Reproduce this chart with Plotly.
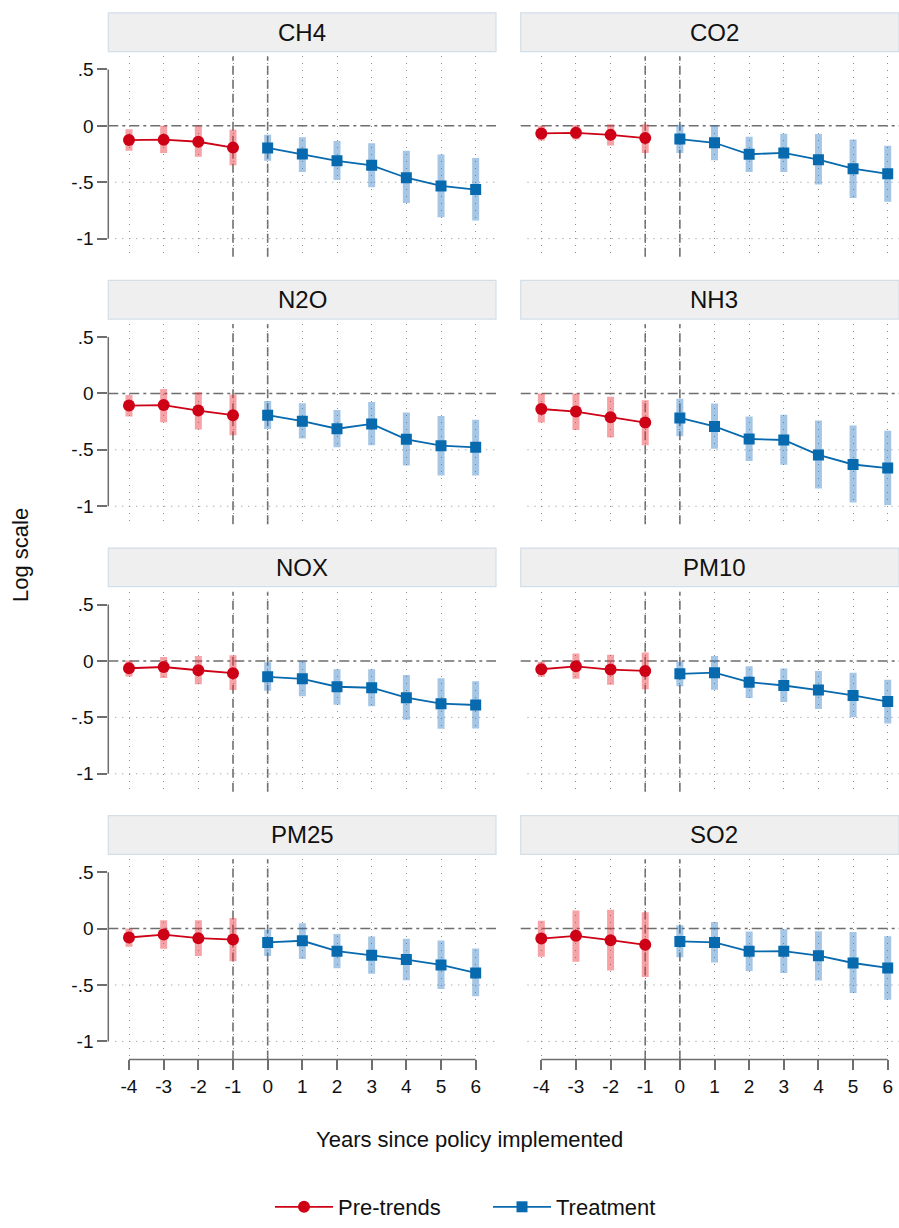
import plotly.graph_objects as go

W, H = 899, 1228

pollutants = ["CH4", "CO2", "N2O", "NH3", "NOX", "PM10", "PM25", "SO2"]
years_pre = [-4, -3, -2, -1]
years_trt = [0, 1, 2, 3, 4, 5, 6]
xtick_vals = [-4, -3, -2, -1, 0, 1, 2, 3, 4, 5, 6]
xtick_text = ["-4", "-3", "-2", "-1", "0", "1", "2", "3", "4", "5", "6"]
ytick_vals = [-1, -0.5, 0, 0.5]
ytick_text = ["-1", "-.5", "0", ".5"]

CH4_pre = [-0.126, -0.123, -0.141, -0.193]
CH4_pre_lo = [-0.22, -0.24, -0.275, -0.35]
CH4_pre_hi = [-0.03, 0.0, 0.0, -0.035]
CH4_trt = [-0.196, -0.25, -0.31, -0.35, -0.46, -0.533, -0.565]
CH4_trt_lo = [-0.31, -0.41, -0.48, -0.545, -0.685, -0.81, -0.84]
CH4_trt_hi = [-0.08, -0.10, -0.135, -0.155, -0.22, -0.255, -0.285]

CO2_pre = [-0.067, -0.062, -0.08, -0.108]
CO2_pre_lo = [-0.13, -0.12, -0.175, -0.24]
CO2_pre_hi = [0.0, 0.005, 0.015, 0.015]
CO2_trt = [-0.117, -0.15, -0.252, -0.24, -0.30, -0.38, -0.425]
CO2_trt_lo = [-0.24, -0.305, -0.41, -0.41, -0.52, -0.64, -0.674]
CO2_trt_hi = [0.01, 0.005, -0.097, -0.07, -0.073, -0.12, -0.176]

N2O_pre = [-0.108, -0.103, -0.152, -0.193]
N2O_pre_lo = [-0.205, -0.255, -0.32, -0.37]
N2O_pre_hi = [-0.015, 0.04, 0.01, -0.01]
N2O_trt = [-0.193, -0.246, -0.313, -0.27, -0.407, -0.463, -0.478]
N2O_trt_lo = [-0.316, -0.40, -0.478, -0.46, -0.64, -0.727, -0.727]
N2O_trt_hi = [-0.067, -0.088, -0.146, -0.076, -0.17, -0.2, -0.234]

NH3_pre = [-0.138, -0.161, -0.211, -0.258]
NH3_pre_lo = [-0.258, -0.325, -0.39, -0.46]
NH3_pre_hi = [0.0, 0.0, -0.03, -0.06]
NH3_trt = [-0.217, -0.293, -0.404, -0.413, -0.545, -0.63, -0.662]
NH3_trt_lo = [-0.38, -0.49, -0.60, -0.633, -0.844, -0.967, -0.99]
NH3_trt_hi = [-0.047, -0.09, -0.205, -0.19, -0.24, -0.284, -0.33]

NOX_pre = [-0.064, -0.053, -0.082, -0.108]
NOX_pre_lo = [-0.138, -0.15, -0.205, -0.258]
NOX_pre_hi = [0.005, 0.035, 0.044, 0.05]
NOX_trt = [-0.14, -0.158, -0.228, -0.237, -0.325, -0.378, -0.39]
NOX_trt_lo = [-0.264, -0.313, -0.387, -0.40, -0.52, -0.60, -0.598]
NOX_trt_hi = [-0.01, 0.0, -0.073, -0.073, -0.123, -0.152, -0.18]

PM10_pre = [-0.073, -0.047, -0.076, -0.088]
PM10_pre_lo = [-0.14, -0.158, -0.21, -0.25]
PM10_pre_hi = [-0.006, 0.067, 0.056, 0.076]
PM10_trt = [-0.114, -0.103, -0.188, -0.217, -0.258, -0.305, -0.36]
PM10_trt_lo = [-0.223, -0.255, -0.328, -0.363, -0.425, -0.498, -0.554]
PM10_trt_hi = [-0.006, 0.044, -0.047, -0.067, -0.088, -0.103, -0.167]

PM25_pre = [-0.079, -0.053, -0.085, -0.097]
PM25_pre_lo = [-0.161, -0.179, -0.243, -0.29]
PM25_pre_hi = [0.0, 0.073, 0.073, 0.094]
PM25_trt = [-0.123, -0.108, -0.2, -0.237, -0.275, -0.322, -0.393]
PM25_trt_lo = [-0.243, -0.27, -0.352, -0.40, -0.457, -0.536, -0.60]
PM25_trt_hi = [-0.009, 0.047, -0.047, -0.07, -0.09, -0.105, -0.176]

SO2_pre = [-0.088, -0.064, -0.103, -0.144]
SO2_pre_lo = [-0.25, -0.293, -0.372, -0.43]
SO2_pre_hi = [0.07, 0.16, 0.167, 0.146]
SO2_trt = [-0.114, -0.123, -0.202, -0.2, -0.24, -0.305, -0.349]
SO2_trt_lo = [-0.255, -0.30, -0.375, -0.393, -0.46, -0.571, -0.63]
SO2_trt_hi = [0.03, 0.059, -0.026, -0.006, -0.023, -0.03, -0.067]

table = {
    "CH4": (CH4_pre, CH4_pre_lo, CH4_pre_hi, CH4_trt, CH4_trt_lo, CH4_trt_hi),
    "CO2": (CO2_pre, CO2_pre_lo, CO2_pre_hi, CO2_trt, CO2_trt_lo, CO2_trt_hi),
    "N2O": (N2O_pre, N2O_pre_lo, N2O_pre_hi, N2O_trt, N2O_trt_lo, N2O_trt_hi),
    "NH3": (NH3_pre, NH3_pre_lo, NH3_pre_hi, NH3_trt, NH3_trt_lo, NH3_trt_hi),
    "NOX": (NOX_pre, NOX_pre_lo, NOX_pre_hi, NOX_trt, NOX_trt_lo, NOX_trt_hi),
    "PM10": (PM10_pre, PM10_pre_lo, PM10_pre_hi, PM10_trt, PM10_trt_lo, PM10_trt_hi),
    "PM25": (PM25_pre, PM25_pre_lo, PM25_pre_hi, PM25_trt, PM25_trt_lo, PM25_trt_hi),
    "SO2": (SO2_pre, SO2_pre_lo, SO2_pre_hi, SO2_trt, SO2_trt_lo, SO2_trt_hi),
}

RED = "rgb(206,0,22)"
RED_CI = "rgba(236,50,60,0.45)"
BLUE = "rgb(8,106,174)"
BLUE_CI = "rgba(40,120,190,0.42)"
AX = "#6e6e6e"
GRID = "#8c8c8c"
FONT = "Liberation Sans, Arial, sans-serif"

# pixel geometry
col_px = [(108.3, 496.0), (520.7, 899.0)]
x_ranges = [[-4.597, 6.586], [-4.595, 6.326]]
y_range = [-1.16, 0.615]


def fx(px):
    return px / W


def fy(py):
    return 1 - py / H


fig = go.Figure()
layout = {}
shapes = []
annotations = []

for idx, name in enumerate(pollutants):
    r, c = divmod(idx, 2)
    i = idx + 1
    xa = "x" if i == 1 else f"x{i}"
    ya = "y" if i == 1 else f"y{i}"
    top = 57 + 270 * r
    bot = 259 + 270 * r
    x0p, x1p = col_px[c]
    pre, pre_lo, pre_hi, trt, trt_lo, trt_hi = table[name]

    # CI bars
    fig.add_trace(go.Scatter(
        x=years_pre, y=pre, mode="markers", xaxis=xa, yaxis=ya,
        marker=dict(size=2, opacity=0), showlegend=False, hoverinfo="skip",
        error_y=dict(type="data", symmetric=False,
                     array=[h - e for h, e in zip(pre_hi, pre)],
                     arrayminus=[e - l for e, l in zip(pre, pre_lo)],
                     thickness=7, width=0, color=RED_CI)))
    fig.add_trace(go.Scatter(
        x=years_trt, y=trt, mode="markers", xaxis=xa, yaxis=ya,
        marker=dict(size=2, opacity=0), showlegend=False, hoverinfo="skip",
        error_y=dict(type="data", symmetric=False,
                     array=[h - e for h, e in zip(trt_hi, trt)],
                     arrayminus=[e - l for e, l in zip(trt, trt_lo)],
                     thickness=7, width=0, color=BLUE_CI)))
    # point estimates
    fig.add_trace(go.Scatter(
        x=years_pre, y=pre, mode="lines+markers", xaxis=xa, yaxis=ya,
        name="Pre-trends", legendgroup="pre", showlegend=(idx == 0),
        line=dict(color=RED, width=1.8),
        marker=dict(symbol="circle", size=12, color=RED)))
    fig.add_trace(go.Scatter(
        x=years_trt, y=trt, mode="lines+markers", xaxis=xa, yaxis=ya,
        name="Treatment", legendgroup="trt", showlegend=(idx == 0),
        line=dict(color=BLUE, width=1.8),
        marker=dict(symbol="square", size=11, color=BLUE)))

    bottom_row = (r == 3)
    layout["xaxis" if i == 1 else f"xaxis{i}"] = dict(
        domain=[fx(x0p), fx(x1p)], anchor=ya, range=x_ranges[c],
        tickvals=xtick_vals, ticktext=xtick_text,
        showticklabels=bottom_row, ticks="outside" if bottom_row else "",
        ticklen=10, tickwidth=1.5, tickcolor=AX,
        tickfont=dict(family=FONT, size=19, color="#111"),
        showgrid=True, gridcolor=GRID, gridwidth=1, griddash="1px,6px",
        showline=False, zeroline=False, fixedrange=True)
    left = (c == 0)
    layout["yaxis" if i == 1 else f"yaxis{i}"] = dict(
        domain=[fy(bot), fy(top)], anchor=xa, range=y_range,
        tickvals=ytick_vals, ticktext=ytick_text,
        showticklabels=left, ticks="outside" if left else "",
        ticklen=10, tickwidth=1.5, tickcolor=AX,
        tickfont=dict(family=FONT, size=19, color="#111"),
        showgrid=False, showline=False, zeroline=False, fixedrange=True)

    xd = f"{xa} domain"
    yd = f"{ya} domain"
    # horizontal dotted grid
    for yv in (-0.5, -1.0):
        shapes.append(dict(type="line", xref=xd, yref=ya, x0=0.018, x1=1, y0=yv, y1=yv,
                           line=dict(color=GRID, width=1, dash="1px,6px"), layer="below"))
    # zero reference line
    shapes.append(dict(type="line", xref=xd, yref=ya, x0=0, x1=1, y0=0, y1=0,
                       line=dict(color=AX, width=1.5, dash="10px,4px,3px,4px"), layer="below"))
    # vertical reference lines
    for xv in (-1, 0):
        shapes.append(dict(type="line", xref=xa, yref=yd, x0=xv, x1=xv, y0=0, y1=1,
                           line=dict(color=AX, width=1.6, dash="9px,5px"), layer="below"))
    if left:
        shapes.append(dict(type="line", xref=xd, yref=ya, x0=0, x1=0, y0=-1, y1=0.5,
                           line=dict(color=AX, width=1.5), layer="above"))
    if bottom_row:
        shapes.append(dict(type="line", xref=xa, yref=yd, x0=-4, x1=6, y0=0, y1=0,
                           line=dict(color=AX, width=1.5), layer="above"))
    # strip
    s_top, s_bot = 13 + 270 * r, 52 + 270 * r
    shapes.append(dict(type="rect", xref="paper", yref="paper",
                       x0=fx(x0p), x1=fx(x1p) if c == 0 else 1.0,
                       y0=fy(s_bot), y1=fy(s_top),
                       fillcolor="#efefef", line=dict(color="#d2dee8", width=1.2)))
    annotations.append(dict(text=name, xref="paper", yref="paper",
                            x=fx((x0p + (x1p if c == 0 else 908.0)) / 2), y=fy((s_top + s_bot) / 2),
                            xanchor="center", yanchor="middle", showarrow=False,
                            font=dict(family=FONT, size=24, color="#111")))

annotations.append(dict(text="Log scale", xref="paper", yref="paper",
                        x=fx(21), y=fy(560), textangle=-90, showarrow=False,
                        xanchor="center", yanchor="middle",
                        font=dict(family=FONT, size=22, color="#111")))
annotations.append(dict(text="Years since policy implemented", xref="paper", yref="paper",
                        x=fx(470), y=fy(1150), showarrow=False,
                        xanchor="center", yanchor="middle",
                        font=dict(family=FONT, size=22, color="#111")))

fig.update_layout(
    width=W, height=H, margin=dict(l=0, r=0, t=0, b=0),
    paper_bgcolor="white", plot_bgcolor="white",
    shapes=shapes, annotations=annotations, hovermode=False,
    legend=dict(orientation="h", x=fx(270), y=fy(1218), xanchor="left", yanchor="middle",
                font=dict(family=FONT, size=22, color="#111"),
                entrywidth=145, itemwidth=58, bgcolor="rgba(0,0,0,0)"),
    **layout)

fig.write_html("out.html")
